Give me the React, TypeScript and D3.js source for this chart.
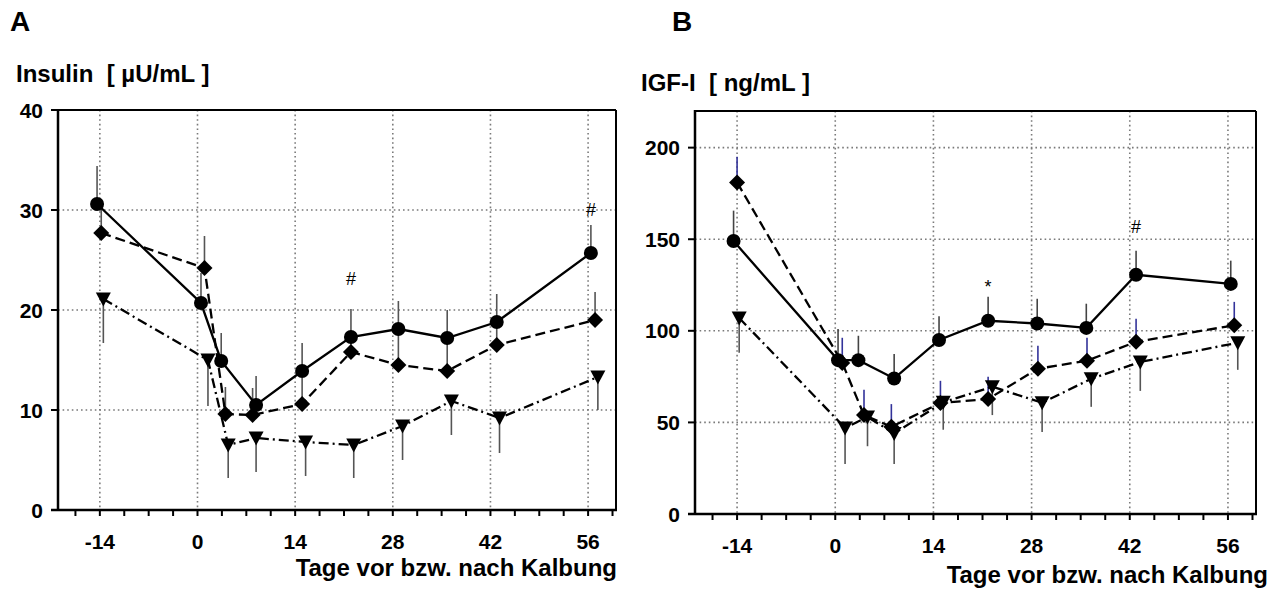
import React from 'react';
import * as d3 from 'd3';

// ---------- shared axis data ----------
const X_TICK_LABELS = [-14, 0, 14, 28, 42, 56];
const X_MINOR_TICKS = d3.range(-17.5, 60, 3.5);
const X_TITLE = 'Tage vor bzw. nach Kalbung';

// ---------- Panel A : Insulin ----------
const A_Y_TICKS = [0, 10, 20, 30, 40];
const A_CIRCLE_DAY = [-14.4, 0.5, 3.4, 8.4, 15, 22, 28.8, 35.8, 42.9, 56.4];
const A_CIRCLE_VAL = [30.6, 20.7, 14.9, 10.5, 13.9, 17.3, 18.1, 17.2, 18.8, 25.7];
const A_CIRCLE_ERR = [34.4, 23.7, 17.7, 13.4, 16.7, 20.1, 20.9, 20.0, 21.6, 28.5];
const A_DIAMOND_DAY = [-13.8, 1, 4, 7.9, 15, 22, 28.8, 35.8, 42.9, 57];
const A_DIAMOND_VAL = [27.7, 24.2, 9.6, 9.5, 10.6, 15.8, 14.5, 13.9, 16.5, 19.0];
const A_DIAMOND_ERR = [30.3, 27.4, 12.3, 12.2, 13.2, 17.5, 17.5, 17.0, 18.5, 21.8];
const A_TRIANGLE_DAY = [-13.5, 1.5, 4.4, 8.4, 15.5, 22.4, 29.4, 36.4, 43.3, 57.4];
const A_TRIANGLE_VAL = [21.1, 15.0, 6.5, 7.2, 6.8, 6.5, 8.4, 10.9, 9.2, 13.3];
const A_TRIANGLE_ERR = [16.7, 10.4, 3.2, 3.8, 3.4, 3.2, 5.0, 7.5, 5.7, 10.0];
const A_NOTE_TEXT = ['#', '#'];
const A_NOTE_DAY = [22, 56.4];
const A_NOTE_VAL = [23.1, 30.0];

// ---------- Panel B : IGF-I ----------
const B_Y_TICKS = [0, 50, 100, 150, 200];
const B_CIRCLE_DAY = [-14.5, 0.4, 3.3, 8.4, 14.8, 21.8, 28.8, 35.8, 42.9, 56.4];
const B_CIRCLE_VAL = [149, 84, 84, 74, 95, 105.5, 104, 101.6, 130.6, 125.6];
const B_CIRCLE_ERR = [165.6, 101, 97.3, 87.4, 108, 118.6, 117.5, 114.8, 143.7, 138.3];
const B_DIAMOND_DAY = [-14, 1, 4.1, 8, 15, 21.8, 28.9, 35.9, 42.9, 56.9];
const B_DIAMOND_VAL = [181, 82.5, 54, 47.6, 60.6, 62.8, 79.3, 83.7, 94, 103];
const B_DIAMOND_ERR = [195, 96.2, 67.8, 60, 72.7, 74.9, 91.8, 96.2, 106.6, 115.8];
const B_TRIANGLE_DAY = [-13.7, 1.4, 4.6, 8.4, 15.4, 22.4, 29.5, 36.5, 43.5, 57.4];
const B_TRIANGLE_VAL = [107, 47, 53, 44, 61, 69.5, 60.7, 73.8, 83, 93.5];
const B_TRIANGLE_ERR = [88, 27.3, 37, 27.3, 46, 54, 44.8, 58.5, 67.2, 78.7];
const B_NOTE_TEXT = ['*', '#'];
const B_NOTE_DAY = [21.8, 42.9];
const B_NOTE_VAL = [124, 157];

const FONT = 'Liberation Sans, Arial, Helvetica, sans-serif';

type Series = {
  day: number[];
  val: number[];
  err: number[];
  shape: 'circle' | 'diamond' | 'triangle';
  dash: string;
  errColor: string;
};

type PanelProps = {
  letter: string;
  yLabel: string;
  letterX: number;
  yLabelX: number;
  yLabelY: number;
  left: number;
  right: number;
  top: number;
  bottom: number;
  yMax: number;
  yTicks: number[];
  series: Series[];
  notes: { text: string; day: number; val: number }[];
  titleRight: number;
  titleY: number;
};

function marker(shape: string, x: number, y: number, key: string) {
  if (shape === 'circle') return <circle key={key} cx={x} cy={y} r={7} fill="#000" />;
  if (shape === 'diamond') {
    const h = 8;
    return <path key={key} d={`M${x},${y - h}L${x + h},${y}L${x},${y + h}L${x - h},${y}Z`} fill="#000" />;
  }
  const w = 7.5, t = 6.5, b = 7.5;
  return <path key={key} d={`M${x - w},${y - t}L${x + w},${y - t}L${x},${y + b}Z`} fill="#000" />;
}

function Panel(p: PanelProps) {
  const x = d3.scaleLinear().domain([-20, 60]).range([p.left, p.right]);
  const y = d3.scaleLinear().domain([0, p.yMax]).range([p.bottom, p.top]);
  const line = d3.line<[number, number]>().x((d) => x(d[0])).y((d) => y(d[1]));
  const gridCol = '#7a7a7a';
  return (
    <g>
      <text x={p.letterX} y={31} fontFamily={FONT} fontWeight="bold" fontSize={28}>{p.letter}</text>
      <text x={p.yLabelX} y={p.yLabelY} fontFamily={FONT} fontWeight="bold" fontSize={24} xmlSpace="preserve">{p.yLabel}</text>
      {/* grid */}
      {X_TICK_LABELS.map((t) => (
        <line key={'vg' + t} x1={x(t)} x2={x(t)} y1={p.top} y2={p.bottom} stroke={gridCol} strokeWidth={1.6} strokeDasharray="1.6,3" />
      ))}
      {p.yTicks.filter((t) => t > 0 && t < p.yMax).map((t) => (
        <line key={'hg' + t} x1={p.left} x2={p.right} y1={y(t)} y2={y(t)} stroke={gridCol} strokeWidth={1.6} strokeDasharray="1.6,3" />
      ))}
      {/* frame */}
      <line x1={p.left} x2={p.right} y1={p.top} y2={p.top} stroke="#000" strokeWidth={2} />
      <line x1={p.right} x2={p.right} y1={p.top} y2={p.bottom} stroke="#000" strokeWidth={2} />
      <line x1={p.left} x2={p.left} y1={p.top - 1} y2={p.bottom} stroke="#000" strokeWidth={2.5} />
      <line x1={p.left - 7} x2={p.right + 1} y1={p.bottom} y2={p.bottom} stroke="#000" strokeWidth={2.5} />
      {/* y ticks */}
      {p.yTicks.map((t) => (
        <g key={'yt' + t}>
          <line x1={p.left - 7} x2={p.left} y1={y(t)} y2={y(t)} stroke="#000" strokeWidth={2} />
          <text x={p.left - 15} y={y(t)} dy="0.36em" textAnchor="end" fontFamily={FONT} fontWeight="bold" fontSize={21}>{t}</text>
        </g>
      ))}
      {/* x ticks */}
      {X_MINOR_TICKS.map((t) => (
        <line key={'xt' + t} x1={x(t)} x2={x(t)} y1={p.bottom} y2={p.bottom + 6} stroke="#000" strokeWidth={2} />
      ))}
      {X_TICK_LABELS.map((t) => (
        <text key={'xl' + t} x={x(t)} y={p.bottom + 39} textAnchor="middle" fontFamily={FONT} fontWeight="bold" fontSize={21}>{t}</text>
      ))}
      <text x={p.titleRight} y={p.titleY} textAnchor="end" fontFamily={FONT} fontWeight="bold" fontSize={24}>{X_TITLE}</text>
      {/* error bars */}
      {p.series.map((s, si) =>
        s.day.map((d, i) => (
          <line key={'e' + si + '-' + i} x1={x(d)} x2={x(d)} y1={y(s.val[i])} y2={y(s.err[i])} stroke={s.errColor} strokeWidth={1.6} />
        ))
      )}
      {/* lines */}
      {p.series.map((s, si) => (
        <path key={'l' + si} d={line(s.day.map((d, i) => [d, s.val[i]] as [number, number])) || ''} fill="none" stroke="#000" strokeWidth={2.3} strokeDasharray={s.dash} />
      ))}
      {/* markers */}
      {p.series.map((s, si) => s.day.map((d, i) => marker(s.shape, x(d), y(s.val[i]), 'm' + si + '-' + i)))}
      {/* notes */}
      {p.notes.map((n, i) => (
        <text key={'n' + i} x={x(n.day)} y={y(n.val)} dy="0.35em" textAnchor="middle" fontFamily={FONT} fontSize={18}>{n.text}</text>
      ))}
    </g>
  );
}

function notes(text: string[], day: number[], val: number[]) {
  return text.map((t, i) => ({ text: t, day: day[i], val: val[i] }));
}

export default function App() {
  const aSeries: Series[] = [
    { day: A_TRIANGLE_DAY, val: A_TRIANGLE_VAL, err: A_TRIANGLE_ERR, shape: 'triangle', dash: '10,4,2,4', errColor: '#555' },
    { day: A_DIAMOND_DAY, val: A_DIAMOND_VAL, err: A_DIAMOND_ERR, shape: 'diamond', dash: '10,5', errColor: '#555' },
    { day: A_CIRCLE_DAY, val: A_CIRCLE_VAL, err: A_CIRCLE_ERR, shape: 'circle', dash: '', errColor: '#555' },
  ];
  const bSeries: Series[] = [
    { day: B_TRIANGLE_DAY, val: B_TRIANGLE_VAL, err: B_TRIANGLE_ERR, shape: 'triangle', dash: '10,4,2,4', errColor: '#555' },
    { day: B_DIAMOND_DAY, val: B_DIAMOND_VAL, err: B_DIAMOND_ERR, shape: 'diamond', dash: '10,5', errColor: '#33339a' },
    { day: B_CIRCLE_DAY, val: B_CIRCLE_VAL, err: B_CIRCLE_ERR, shape: 'circle', dash: '', errColor: '#444' },
  ];
  return (
    <svg width={1282} height={591} style={{ position: 'absolute', left: 0, top: 0, background: '#fff' }}>
      <rect width={1282} height={591} fill="#fff" />
      <Panel
        letter="A" yLabel="Insulin  [ µU/mL ]" letterX={10} yLabelX={16} yLabelY={82}
        left={58} right={616} top={110} bottom={510} yMax={40} yTicks={A_Y_TICKS}
        series={aSeries} notes={notes(A_NOTE_TEXT, A_NOTE_DAY, A_NOTE_VAL)}
        titleRight={617} titleY={576}
      />
      <Panel
        letter="B" yLabel="IGF-I  [ ng/mL ]" letterX={672} yLabelX={641} yLabelY={91}
        left={695} right={1256} top={111} bottom={514} yMax={220} yTicks={B_Y_TICKS}
        series={bSeries} notes={notes(B_NOTE_TEXT, B_NOTE_DAY, B_NOTE_VAL)}
        titleRight={1268} titleY={583}
      />
    </svg>
  );
}
